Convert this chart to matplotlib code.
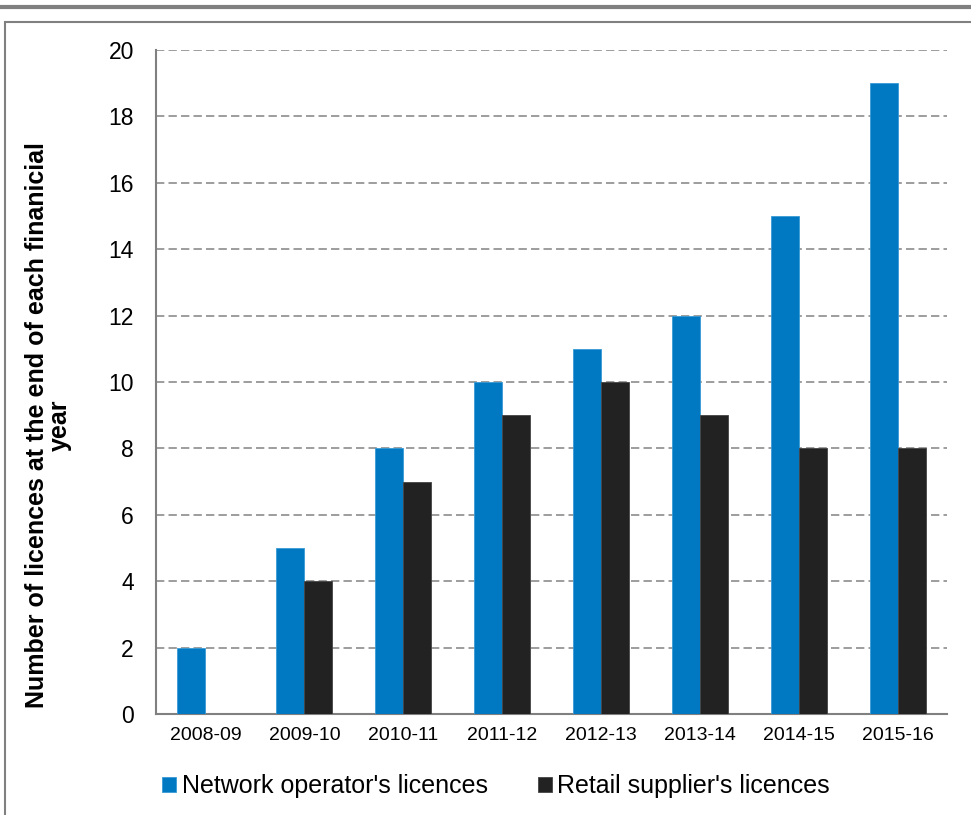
import matplotlib
matplotlib.use("Agg")
import matplotlib.pyplot as plt
import numpy as np
from matplotlib.patches import Rectangle
from matplotlib.lines import Line2D

categories = ["2008-09", "2009-10", "2010-11", "2011-12", "2012-13", "2013-14", "2014-15", "2015-16"]
network = [2, 5, 8, 10, 11, 12, 15, 19]
retail = [0, 4, 7, 9, 10, 9, 8, 8]
series_names = ["Network operator's licences", "Retail supplier's licences"]
ylabel = "Number of licences at the end of each finanicial\nyear"

plt.rcParams['font.family'] = ['Liberation Sans', 'DejaVu Sans']

fig = plt.figure(figsize=(9.71, 8.15), dpi=100)
ax = fig.add_axes([156/971, 1 - 714/815, (947 - 156)/971, (714 - 50)/815])

x = np.arange(len(categories))
w = 0.283
blue = "#0079C2"
dark = "#222222"
ax.bar(x - w/2, network, w, color=blue, edgecolor="#3A9AD6", linewidth=0.6, label=series_names[0], zorder=3)
ax.bar(x + w/2, retail, w, color=dark, edgecolor="#444444", linewidth=0.6, label=series_names[1], zorder=3)

ax.set_xlim(-0.5, len(categories) - 0.5)
ax.set_ylim(0, 20)
ax.set_yticks(np.arange(0, 21, 2))
ax.set_xticks(x)
ax.set_xticklabels(categories, fontsize=14)
ax.tick_params(axis='y', labelsize=16.5, length=0, pad=16)
ax.tick_params(axis='x', length=0, pad=9)
ax.yaxis.grid(True, linestyle=(0, (5, 2.5)), color="#8C8C8C", linewidth=1.2, zorder=0)
for s in ["top", "right"]:
    ax.spines[s].set_visible(False)
for s in ["left", "bottom"]:
    ax.spines[s].set_color("#808080")
    ax.spines[s].set_linewidth(1.5)
ax.set_ylabel(ylabel, fontsize=18, fontweight='bold', linespacing=0.95)
ax.yaxis.set_label_coords((72 - 156) / 791, (714 - 425) / 664)

leg = fig.legend(loc='center', bbox_to_anchor=(0.511, 1 - 786/815), ncol=2, frameon=False,
                 fontsize=18, handlelength=0.56, handleheight=0.56, handletextpad=0.22, columnspacing=2.0)

# decorative frame
fig.add_artist(Line2D([0, 1], [1 - 7/815, 1 - 7/815], color="#808080", linewidth=3, transform=fig.transFigure))
fig.add_artist(Rectangle((5/971, -0.01), 1.0, 1 - 22/815 + 0.01, transform=fig.transFigure,
                         fill=False, edgecolor="#808080", linewidth=1.5))

fig.savefig("out.png", dpi=100)
